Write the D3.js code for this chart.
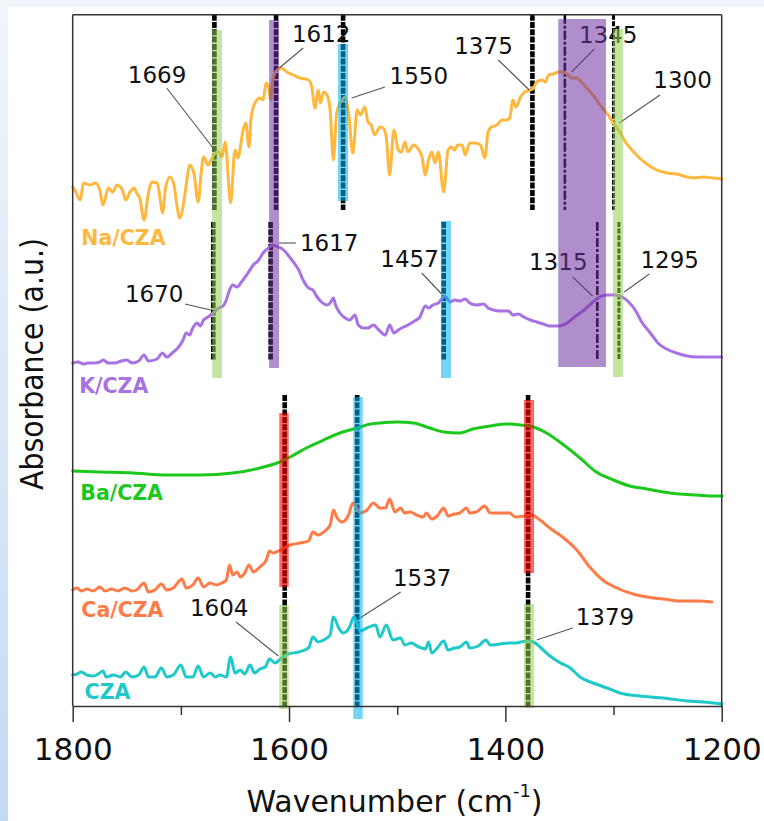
<!DOCTYPE html>
<html><head><meta charset="utf-8">
<script src="https://cdn.jsdelivr.net/npm/d3@7/dist/d3.min.js"></script>
<style>html,body{margin:0;padding:0;background:#fff;} svg{display:block;}</style>
</head><body>
<script>
// ---------------- DATA ----------------
// wavenumber (cm-1), absorbance (a.u., offset spectra)
const naCZA = [[1800,5.19],[1798,5.16],[1793,5.06],[1790,5.23],[1784,5.21],[1779,5.23],[1775,5.16],[1772,5.01],[1767,5.18],[1763,5.14],[1759,5.21],[1754,5.16],[1751,5.06],[1747,5.14],[1743,5.18],[1741,5.13],[1738,5.08],[1734,4.86],[1730,5.13],[1727,5.24],[1722,5.23],[1719,5.06],[1717,4.93],[1714,5.19],[1710,5.29],[1706,5.19],[1704,5.03],[1701,4.88],[1697,5.06],[1694,5.29],[1692,5.41],[1688,5.33],[1684,5.04],[1681,5.36],[1679,5.49],[1675,5.41],[1672,5.46],[1668,5.53],[1665,5.54],[1662,5.49],[1659,5.64],[1654,5.03],[1650,5.56],[1647,5.48],[1645,5.59],[1643,5.73],[1640,5.83],[1637,5.59],[1635,5.89],[1631,6.04],[1627,6.08],[1624,6.06],[1622,6.19],[1621,6.23],[1619,6.19],[1617,6.06],[1615,6.26],[1611,6.36],[1607,6.38],[1602,6.34],[1596,6.31],[1590,6.28],[1582,6.26],[1579,6.19],[1576,5.98],[1573,6.16],[1571,6.03],[1568,6.14],[1565,6.11],[1562,5.96],[1559,5.46],[1556,5.93],[1551,6.06],[1548,6.09],[1545,5.93],[1541,5.53],[1537,5.96],[1534,5.91],[1530,5.99],[1527,5.84],[1524,5.81],[1521,5.71],[1516,5.79],[1513,5.78],[1510,5.68],[1507,5.31],[1503,5.76],[1499,5.56],[1496,5.54],[1493,5.64],[1490,5.54],[1485,5.61],[1480,5.56],[1477,5.49],[1474,5.31],[1471,5.46],[1468,5.54],[1465,5.43],[1462,5.54],[1457,5.14],[1453,5.56],[1450,5.59],[1447,5.56],[1444,5.61],[1440,5.61],[1437,5.51],[1433,5.63],[1428,5.63],[1423,5.61],[1419,5.48],[1416,5.74],[1413,5.79],[1408,5.81],[1403,5.86],[1399,5.86],[1396,5.88],[1393,6.06],[1390,5.99],[1386,6.09],[1382,6.14],[1377,6.16],[1374,6.18],[1371,6.24],[1366,6.26],[1363,6.24],[1360,6.31],[1356,6.32],[1351,6.34],[1346,6.34],[1342,6.31],[1339,6.28],[1334,6.28],[1329,6.23],[1323,6.16],[1317,6.08],[1311,5.99],[1305,5.91],[1299,5.81],[1294,5.74],[1289,5.64],[1283,5.56],[1276,5.48],[1268,5.41],[1260,5.36],[1251,5.33],[1242,5.32],[1232,5.29],[1226,5.28],[1217,5.29],[1208,5.28],[1200,5.27]];

const kCZA = [[1800,3.43],[1795,3.44],[1790,3.42],[1786,3.43],[1781,3.43],[1775,3.44],[1772,3.46],[1767,3.43],[1761,3.43],[1755,3.45],[1750,3.46],[1745,3.43],[1739,3.45],[1734,3.51],[1730,3.45],[1722,3.47],[1717,3.53],[1713,3.49],[1707,3.54],[1702,3.59],[1698,3.66],[1695,3.73],[1692,3.71],[1689,3.78],[1685,3.83],[1682,3.80],[1679,3.86],[1675,3.89],[1670,3.93],[1665,3.98],[1661,4.00],[1658,4.06],[1655,4.16],[1652,4.21],[1648,4.19],[1644,4.24],[1638,4.33],[1633,4.41],[1628,4.46],[1624,4.53],[1619,4.58],[1615,4.61],[1610,4.59],[1605,4.56],[1601,4.51],[1596,4.44],[1591,4.36],[1587,4.26],[1582,4.18],[1578,4.16],[1574,4.09],[1570,4.04],[1565,4.01],[1562,4.03],[1559,4.08],[1557,4.01],[1553,3.93],[1548,3.88],[1544,3.86],[1539,3.91],[1536,3.81],[1531,3.78],[1527,3.78],[1522,3.81],[1517,3.76],[1511,3.71],[1507,3.81],[1503,3.73],[1499,3.76],[1494,3.79],[1490,3.81],[1484,3.85],[1479,3.89],[1474,4.00],[1471,3.98],[1467,4.01],[1462,4.03],[1456,4.10],[1451,4.04],[1447,4.06],[1442,4.05],[1437,4.07],[1433,4.03],[1427,4.01],[1420,4.02],[1416,3.98],[1411,3.96],[1405,3.95],[1397,3.95],[1393,3.91],[1388,3.92],[1383,3.89],[1377,3.86],[1371,3.84],[1365,3.82],[1359,3.80],[1351,3.80],[1343,3.83],[1336,3.89],[1326,3.97],[1319,4.04],[1313,4.09],[1306,4.11],[1299,4.11],[1292,4.09],[1286,4.04],[1280,3.96],[1274,3.84],[1266,3.73],[1259,3.63],[1251,3.57],[1242,3.53],[1232,3.50],[1223,3.49],[1214,3.49],[1206,3.49],[1200,3.49]];

const baCZA = [[1800,2.35],[1775,2.34],[1744,2.33],[1713,2.31],[1682,2.31],[1652,2.33],[1627,2.38],[1611,2.43],[1599,2.49],[1584,2.58],[1568,2.66],[1553,2.73],[1537,2.78],[1525,2.82],[1516,2.83],[1500,2.84],[1485,2.83],[1470,2.78],[1457,2.74],[1443,2.73],[1430,2.77],[1414,2.80],[1399,2.82],[1386,2.81],[1374,2.79],[1362,2.73],[1346,2.61],[1331,2.48],[1316,2.34],[1300,2.26],[1285,2.20],[1269,2.17],[1254,2.14],[1239,2.12],[1223,2.11],[1208,2.10],[1200,2.10]];

const caCZA = [[1800,1.16],[1796,1.18],[1792,1.15],[1787,1.17],[1781,1.15],[1775,1.19],[1770,1.15],[1764,1.17],[1758,1.15],[1752,1.18],[1745,1.15],[1741,1.16],[1734,1.23],[1730,1.14],[1724,1.16],[1718,1.22],[1713,1.16],[1707,1.18],[1699,1.27],[1695,1.18],[1689,1.21],[1684,1.28],[1679,1.19],[1673,1.23],[1667,1.21],[1662,1.23],[1658,1.26],[1655,1.41],[1652,1.31],[1648,1.34],[1645,1.29],[1641,1.33],[1637,1.41],[1633,1.34],[1627,1.39],[1621,1.46],[1618,1.55],[1615,1.53],[1608,1.56],[1599,1.61],[1590,1.63],[1582,1.65],[1578,1.74],[1573,1.71],[1568,1.74],[1562,1.81],[1559,1.96],[1556,1.89],[1551,1.84],[1545,1.91],[1541,2.03],[1534,1.93],[1528,1.96],[1522,2.03],[1516,1.98],[1511,1.98],[1507,2.07],[1502,1.94],[1497,1.98],[1493,1.93],[1488,1.94],[1482,1.91],[1476,1.89],[1473,1.93],[1468,1.87],[1463,1.90],[1457,1.98],[1453,1.90],[1447,1.92],[1442,1.93],[1436,1.98],[1433,1.93],[1427,1.94],[1419,2.00],[1414,1.93],[1405,1.93],[1396,1.93],[1391,1.89],[1383,1.90],[1376,1.91],[1368,1.86],[1359,1.78],[1346,1.68],[1334,1.56],[1322,1.39],[1310,1.26],[1297,1.18],[1282,1.12],[1269,1.09],[1254,1.07],[1239,1.05],[1223,1.05],[1209,1.04]];

const cza = [[1800,0.31],[1796,0.32],[1792,0.34],[1787,0.31],[1781,0.30],[1775,0.33],[1772,0.35],[1769,0.29],[1762,0.31],[1756,0.29],[1751,0.34],[1745,0.29],[1739,0.31],[1734,0.39],[1730,0.29],[1724,0.29],[1718,0.38],[1713,0.29],[1707,0.31],[1700,0.41],[1695,0.29],[1689,0.29],[1684,0.40],[1679,0.29],[1673,0.33],[1668,0.29],[1664,0.31],[1658,0.29],[1654,0.49],[1650,0.33],[1645,0.36],[1641,0.32],[1636,0.41],[1632,0.33],[1627,0.37],[1622,0.39],[1618,0.47],[1613,0.43],[1607,0.48],[1601,0.52],[1591,0.54],[1582,0.58],[1578,0.69],[1573,0.64],[1568,0.66],[1562,0.71],[1559,0.89],[1554,0.78],[1550,0.73],[1544,0.79],[1540,0.89],[1534,0.75],[1528,0.78],[1520,0.81],[1516,0.69],[1510,0.81],[1504,0.66],[1497,0.68],[1493,0.61],[1487,0.63],[1480,0.59],[1474,0.57],[1471,0.64],[1468,0.53],[1463,0.58],[1457,0.65],[1453,0.56],[1447,0.58],[1442,0.59],[1436,0.64],[1433,0.58],[1425,0.60],[1418,0.66],[1414,0.61],[1405,0.62],[1396,0.63],[1391,0.63],[1386,0.64],[1379,0.65],[1374,0.64],[1368,0.59],[1360,0.51],[1349,0.43],[1340,0.38],[1331,0.29],[1319,0.23],[1306,0.18],[1294,0.13],[1276,0.10],[1254,0.08],[1232,0.05],[1217,0.04],[1200,0.02]];

const seriesNames = ["Na/CZA", "K/CZA", "Ba/CZA", "Ca/CZA", "CZA"];
const seriesData = [naCZA, kCZA, baCZA, caCZA, cza];
const seriesColors = ["#FFB83F", "#A872E2", "#1DC81D", "#FF7B47", "#1FC9C9"];
// label anchor (wavenumber, a.u.)
const seriesLabelPos = [[1792, 4.61], [1794, 3.13], [1793, 2.06], [1792, 0.89], [1789, 0.07]];

const xTicksMajor = [1800, 1600, 1400, 1200];
const xTicksMinor = [1700, 1500, 1300];

// assignment marker lines (wavenumber) per group, and group vertical extent (a.u.)
const markersTop = [1669, 1612, 1550, 1375, 1345, 1300];
const markersMid = [1670, 1617, 1457, 1315, 1295];
const markersBottom = [1604, 1537, 1379];
const groupExtent = {top: [4.96, 6.913], mid: [3.46, 4.84], bottom: [0, 3.11]};
const dashDotMarkers = [1345, 1315];
const thinMarkers = [1300, 1295];

// highlight bands: [wn high, wn low, a.u. low, a.u. high, colour]
const bandWnHi = [1671, 1618.4, 1554.7, 1351.1, 1300.5, 1459.5, 1609, 1609, 1540.6, 1382.8, 1382.8];
const bandWnLo = [1662, 1609.2, 1545.5, 1307, 1291.3, 1450.3, 1600.3, 1600.3, 1531.9, 1373.5, 1373.5];
const bandLo = [3.28, 3.38, 5.05, 3.39, 3.29, 3.28, 1.19, -0.03, -0.13, 1.33, -0.02];
const bandHi = [6.76, 6.86, 6.62, 6.87, 6.77, 4.85, 2.93, 1.01, 3.09, 3.06, 1.02];
const bandColor = ["#92D050", "#7030A0", "#00B0F0", "#7030A0", "#92D050", "#00B0F0", "#FF0000", "#92D050", "#00B0F0", "#FF0000", "#92D050"];

// peak labels: text, text anchor (wn, a.u.), leader from (wn, a.u.) to (wn, a.u.)
const peakText = ["1669", "1612", "1550", "1375", "1345", "1300", "1670", "1617", "1457", "1315", "1295", "1604", "1537", "1379"];
const peakTextPos = [[1722, 6.23], [1570.3, 6.64], [1480, 6.22], [1420.2, 6.52], [1304.9, 6.63], [1236.2, 6.18], [1724.7, 4.04], [1562.9, 4.55], [1488.6, 4.39], [1351.1, 4.36], [1248.1, 4.38], [1664.6, 0.90], [1476.9, 1.20], [1307.9, 0.81]];
const leaderFrom = [[1713.1, 6.18], [1586.8, 6.58], [1511.3, 6.19], [1406.5, 6.46], [1317.8, 6.57], [1257.1, 6.11], [1696.2, 4.02], [1593.8, 4.63], [1477.3, 4.33], [1337.8, 4.29], [1266.9, 4.32], [1649.0, 0.84], [1496.8, 1.14], [1337.8, 0.78]];
const leaderTo = [[1670.9, 5.59], [1609.0, 6.38], [1542.1, 6.08], [1377.9, 6.16], [1338.7, 6.34], [1294.7, 5.83], [1672.4, 3.96], [1609.3, 4.63], [1458.9, 4.12], [1319.3, 4.10], [1290.1, 4.14], [1609.9, 0.50], [1534.4, 0.88], [1371.0, 0.66]];

// ---------------- DRAW ----------------
const W = 764, H = 821;
const plot = {left: 72.7, right: 721.7, top: 14.7, bottom: 706};
const x = d3.scaleLinear().domain([1800, 1200]).range([plot.left, plot.right]);
const y = d3.scaleLinear().domain([0, 6.913]).range([plot.bottom, plot.top]);
const FONT = "'DejaVu Sans', sans-serif";

const svg = d3.select("body").append("svg").attr("width", W).attr("height", H);
const defs = svg.append("defs");
const grad = defs.append("linearGradient").attr("id", "sideGrad").attr("x1", 0).attr("y1", 0).attr("x2", 0).attr("y2", 1);
grad.append("stop").attr("offset", "0%").attr("stop-color", "#F1F5FB");
grad.append("stop").attr("offset", "100%").attr("stop-color", "#C3DAF6");

svg.append("rect").attr("width", W).attr("height", H).attr("fill", "#fff");
svg.append("rect").attr("x", 0).attr("y", 0).attr("width", W).attr("height", 7).attr("fill", "#EFF4FA");
svg.append("rect").attr("x", 0).attr("y", 0).attr("width", 8).attr("height", H).attr("fill", "url(#sideGrad)");

// marker lines
const markerRows = [];
markersTop.forEach(w => markerRows.push({w, g: "top"}));
markersMid.forEach(w => markerRows.push({w, g: "mid"}));
markersBottom.forEach(w => markerRows.push({w, g: "bottom"}));
svg.append("g").selectAll("line").data(markerRows).join("line")
  .attr("x1", d => x(d.w)).attr("x2", d => x(d.w))
  .attr("y1", d => y(groupExtent[d.g][1])).attr("y2", d => y(groupExtent[d.g][0]))
  .attr("stroke", "#000")
  .attr("stroke-width", d => dashDotMarkers.includes(d.w) ? 2.6 : thinMarkers.includes(d.w) ? 3 : 4.6)
  .attr("stroke-dasharray", d => dashDotMarkers.includes(d.w) ? "9,2,3,2" : thinMarkers.includes(d.w) ? "5,1.6" : "6,1.3");

// spectra
const line = d3.line().x(d => x(d[0])).y(d => y(d[1])).curve(d3.curveMonotoneX);
svg.append("g").selectAll("path").data(seriesData).join("path")
  .attr("d", line).attr("fill", "none")
  .attr("stroke", (d, i) => seriesColors[i]).attr("stroke-width", 3)
  .attr("stroke-linejoin", "round").attr("stroke-linecap", "round");

// series labels
svg.append("g").selectAll("text").data(seriesNames).join("text")
  .attr("x", (d, i) => x(seriesLabelPos[i][0])).attr("y", (d, i) => y(seriesLabelPos[i][1]))
  .attr("fill", (d, i) => seriesColors[i])
  .attr("font-family", FONT).attr("font-weight", "bold").attr("font-size", 20.5)
  .text(d => d);

// leaders and peak labels
svg.append("g").selectAll("line").data(peakText).join("line")
  .attr("x1", (d, i) => x(leaderFrom[i][0])).attr("y1", (d, i) => y(leaderFrom[i][1]))
  .attr("x2", (d, i) => x(leaderTo[i][0])).attr("y2", (d, i) => y(leaderTo[i][1]))
  .attr("stroke", "#555").attr("stroke-width", 1.1);
svg.append("g").selectAll("text").data(peakText).join("text")
  .attr("x", (d, i) => x(peakTextPos[i][0])).attr("y", (d, i) => y(peakTextPos[i][1]))
  .attr("text-anchor", "middle").attr("fill", "#111")
  .attr("font-family", FONT).attr("font-size", 23)
  .text(d => d);

// bands (semi-transparent, on top)
svg.append("g").selectAll("rect").data(bandColor).join("rect")
  .attr("x", (d, i) => x(bandWnHi[i])).attr("width", (d, i) => x(bandWnLo[i]) - x(bandWnHi[i]))
  .attr("y", (d, i) => y(bandHi[i])).attr("height", (d, i) => y(bandLo[i]) - y(bandHi[i]))
  .attr("fill", d => d).attr("fill-opacity", d => d === "#FF0000" ? 0.6 : 0.55);

// frame
const frame = svg.append("g").attr("stroke", "#333").attr("stroke-width", 1.5).attr("fill", "none");
frame.append("line").attr("x1", plot.left).attr("x2", plot.right).attr("y1", plot.top).attr("y2", plot.top);
frame.append("line").attr("x1", plot.left).attr("x2", plot.left).attr("y1", plot.top).attr("y2", plot.bottom);
frame.append("line").attr("x1", plot.right).attr("x2", plot.right).attr("y1", plot.top).attr("y2", plot.bottom);

// x axis
const axMajor = svg.append("g").attr("transform", `translate(0,${plot.bottom})`)
  .call(d3.axisBottom(x).tickValues(xTicksMajor).tickSize(16).tickSizeOuter(0).tickFormat(d3.format("d")));
const axMinor = svg.append("g").attr("transform", `translate(0,${plot.bottom})`)
  .call(d3.axisBottom(x).tickValues(xTicksMinor).tickSize(9).tickSizeOuter(0).tickFormat(""));
axMinor.select(".domain").remove();
[axMajor, axMinor].forEach(a => {
  a.selectAll(".domain").attr("stroke", "#333").attr("stroke-width", 1.5);
  a.selectAll(".tick line").attr("stroke", "#333").attr("stroke-width", 1.5);
});
axMajor.selectAll(".tick text").attr("y", 54).attr("dy", 0)
  .attr("font-family", FONT).attr("font-size", 31).attr("fill", "#111");

// axis titles
const xt = svg.append("text").attr("x", 246.5).attr("y", 812)
  .attr("font-family", FONT).attr("font-size", 30).attr("fill", "#111");
xt.append("tspan").text("Wavenumber (cm");
xt.append("tspan").attr("dy", -15).attr("font-size", 18).text("-1");
xt.append("tspan").attr("dy", 15).text(")");

svg.append("text").attr("transform", "translate(43,364) rotate(-90)")
  .attr("text-anchor", "middle").attr("font-family", FONT).attr("font-size", 32)
  .attr("textLength", 252).attr("lengthAdjust", "spacingAndGlyphs").attr("fill", "#111")
  .text("Absorbance (a.u.)");
</script>
</body></html>
